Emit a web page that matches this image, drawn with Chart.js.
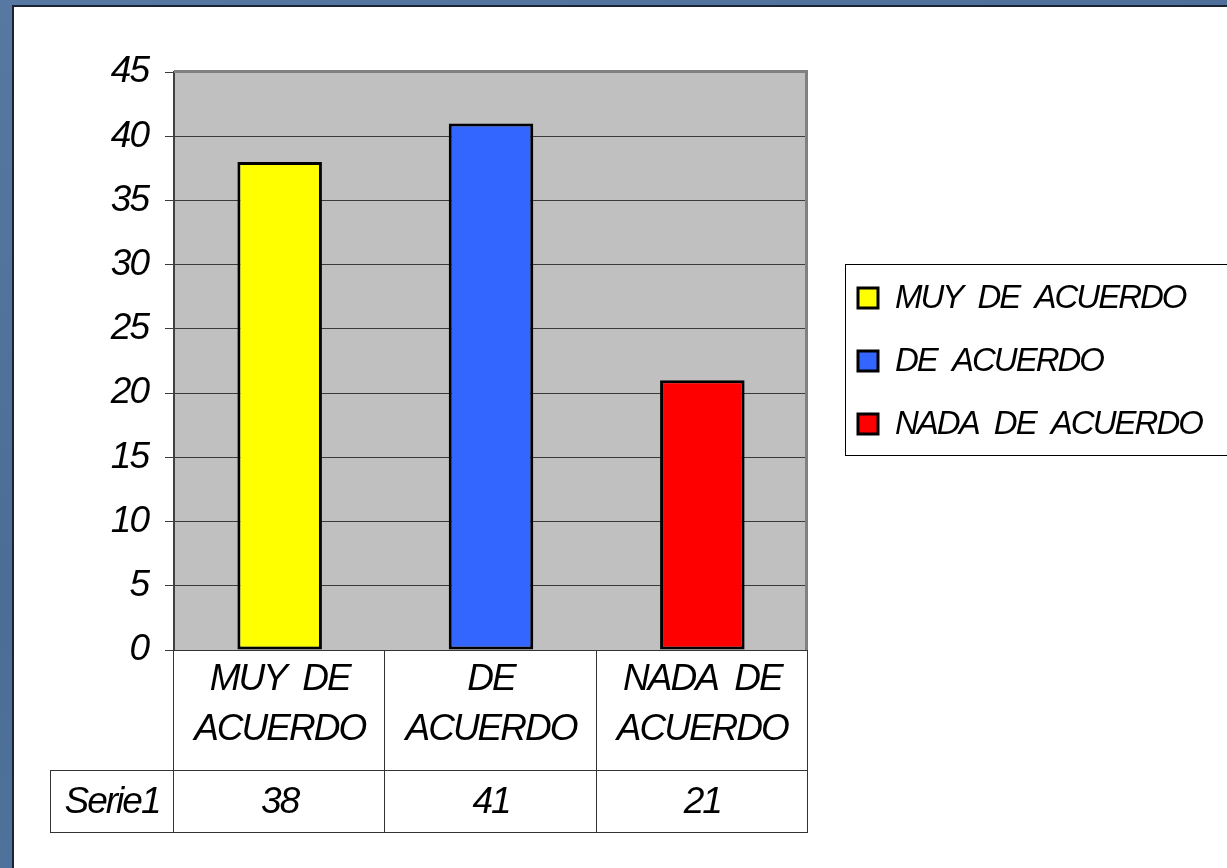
<!DOCTYPE html>
<html>
<head>
<meta charset="utf-8">
<script src="https://cdn.jsdelivr.net/npm/chart.js@4.4.0/dist/chart.umd.min.js"></script>
<style>
  html, body { margin: 0; padding: 0; }
  body {
    width: 1227px; height: 868px; overflow: hidden; position: relative;
    background: linear-gradient(160deg, #5678a2 0%, #4b6d98 45%, #557aa5 100%);
  }
  #panel {
    position: absolute; left: 12px; top: 5px; right: 0; bottom: 0;
    background: #fff; border-left: 2px solid #1b2433; border-top: 2px solid #1b2433;
  }
  #chart { position: absolute; left: 0; top: 0; }
</style>
</head>
<body>
<div id="panel"></div>
<canvas id="chart" width="1227" height="868"></canvas>
<script>
// --- data ---
const CATEGORIES = [['MUY DE', 'ACUERDO'], ['DE', 'ACUERDO'], ['NADA DE', 'ACUERDO']];
const LEGEND_LABELS = ['MUY DE ACUERDO', 'DE ACUERDO', 'NADA DE ACUERDO'];
const SERIES_NAME = 'Serie1';
const SERIES_VALUES = [38, 41, 21];
const BAR_COLORS = ['#FFFF00', '#3366FF', '#FF0000'];
const Y_MIN = 0, Y_MAX = 45, Y_STEP = 5;

const FONT = '"Liberation Sans", Arial, sans-serif';
const italic = (size) => `italic ${size}px ${FONT}`;

// gray plot background (also narrows the letters like the original)
const plotBg = {
  id: 'plotBg',
  beforeDraw(chart) {
    const { ctx, chartArea: a } = chart;
    ctx.letterSpacing = '-2px';
    ctx.save();
    ctx.fillStyle = '#C0C0C0';
    ctx.fillRect(a.left, a.top, a.right - a.left, a.bottom - a.top);
    ctx.restore();
  }
};

// plot frame, data table and legend
const extras = {
  id: 'extras',
  afterDraw(chart) {
    const { ctx, chartArea: a } = chart;
    const x = chart.scales.x;
    ctx.save();

    // top + right frame
    ctx.strokeStyle = '#808080';
    ctx.lineWidth = 3;
    ctx.beginPath();
    ctx.moveTo(a.left, a.top - 0.5);
    ctx.lineTo(a.right - 1.5, a.top - 0.5);
    ctx.lineTo(a.right - 1.5, a.bottom);
    ctx.stroke();

    // data table
    const rowCat = a.bottom + 120, rowVal = rowCat + 62, tableLeft = 50;
    const edges = [a.left];
    for (let i = 0; i < CATEGORIES.length - 1; i++) {
      edges.push((x.getPixelForValue(i) + x.getPixelForValue(i + 1)) / 2);
    }
    edges.push(a.right);

    ctx.strokeStyle = '#333';
    ctx.lineWidth = 1;
    ctx.beginPath();
    ctx.moveTo(a.left, a.bottom + 0.5); ctx.lineTo(a.right, a.bottom + 0.5);
    ctx.moveTo(tableLeft, rowCat + 0.5); ctx.lineTo(a.right, rowCat + 0.5);
    ctx.moveTo(tableLeft, rowVal + 0.5); ctx.lineTo(a.right, rowVal + 0.5);
    ctx.moveTo(tableLeft + 0.5, rowCat); ctx.lineTo(tableLeft + 0.5, rowVal);
    edges.forEach(e => {
      const px = Math.round(e) - 0.5;
      ctx.moveTo(px, a.bottom); ctx.lineTo(px, rowVal);
    });
    ctx.stroke();

    ctx.fillStyle = '#000';
    ctx.textAlign = 'center';
    ctx.textBaseline = 'middle';
    ctx.letterSpacing = '-2px';
    ctx.wordSpacing = '8px';
    ctx.font = italic(37);
    CATEGORIES.forEach((lines, i) => {
      const cx = x.getPixelForValue(i);
      ctx.fillText(lines[0], cx, a.bottom + 30);
      ctx.fillText(lines[1], cx, a.bottom + 80);
      ctx.fillText(String(SERIES_VALUES[i]), cx, (rowCat + rowVal) / 2 + 2);
    });
    ctx.fillText(SERIES_NAME, (tableLeft + a.left) / 2, (rowCat + rowVal) / 2 + 2);

    // legend
    const lx = 845, ly = 264, lw = 400, lh = 191;
    ctx.strokeStyle = '#000';
    ctx.lineWidth = 1;
    ctx.strokeRect(lx + 0.5, ly + 0.5, lw, lh);
    ctx.font = italic(33);
    ctx.letterSpacing = '-2px';
    ctx.wordSpacing = '8px';
    ctx.textAlign = 'left';
    LEGEND_LABELS.forEach((label, i) => {
      const cy = 298 + i * 63;
      ctx.fillStyle = BAR_COLORS[i];
      ctx.fillRect(858, cy - 10, 20, 20);
      ctx.lineWidth = 3;
      ctx.strokeStyle = '#000';
      ctx.strokeRect(858, cy - 10, 20, 20);
      ctx.fillStyle = '#000';
      ctx.fillText(label, 895, cy + 1);
    });

    ctx.restore();
  }
};

new Chart(document.getElementById('chart'), {
  type: 'bar',
  data: {
    labels: CATEGORIES.map(c => c.join(' ')),
    datasets: [{
      label: SERIES_NAME,
      data: SERIES_VALUES,
      backgroundColor: BAR_COLORS,
      borderColor: '#000',
      borderWidth: 3,
      borderSkipped: false,
      barPercentage: 0.4,
      categoryPercentage: 1
    }]
  },
  options: {
    responsive: false,
    devicePixelRatio: 1,
    animation: false,
    layout: { padding: { left: 0, top: 72, right: 419, bottom: 218 } },
    plugins: { legend: { display: false }, tooltip: { enabled: false } },
    scales: {
      x: { display: false },
      y: {
        min: Y_MIN, max: Y_MAX,
        afterFit: (s) => { s.width = 174; },
        ticks: {
          stepSize: Y_STEP, color: '#000', padding: 17,
          font: { family: FONT, style: 'italic', size: 37 }
        },
        grid: { color: '#3a3a3a', lineWidth: 1, tickLength: 9, drawTicks: true },
        border: { display: true, color: '#404040', width: 2 }
      }
    }
  },
  plugins: [plotBg, extras]
});
</script>
</body>
</html>
